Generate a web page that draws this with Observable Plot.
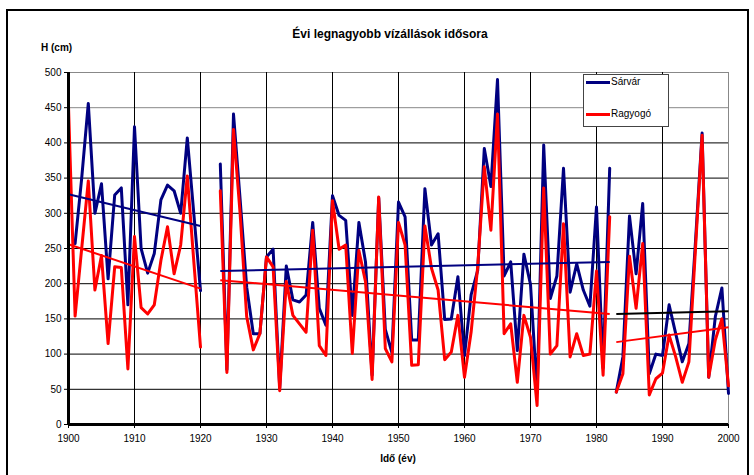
<!DOCTYPE html>
<html>
<head>
<meta charset="utf-8">
<script src="https://cdn.jsdelivr.net/npm/d3@7"></script>
<script src="https://cdn.jsdelivr.net/npm/@observablehq/plot@0.6"></script>
<style>
  html, body { margin: 0; padding: 0; background: #fff; }
  #wrap { position: relative; width: 754px; height: 475px; font-family: "Liberation Sans", Arial, sans-serif; overflow: hidden; }
  #frame { position: absolute; left: 6px; top: 9px; width: 743px; height: 480px; border: 2px solid #000; box-sizing: border-box; pointer-events: none; }
  .lbl { position: absolute; font-weight: bold; color: #000; white-space: nowrap; }
  #title { left: 0; width: 780px; top: 27px; text-align: center; font-size: 12px; }
  #ylab { left: 41px; top: 42px; font-size: 10px; }
  #xlab { left: 0; width: 796px; top: 453px; text-align: center; font-size: 10px; }
  #legend { position: absolute; left: 583px; top: 74px; width: 86px; height: 53px; background: #fff; border: 1px solid #444; box-sizing: border-box; font-size: 10px; }
  .li { position: absolute; left: 2px; height: 12px; line-height: 12px; }
  .li span.sw { display: inline-block; width: 24px; height: 3px; vertical-align: middle; margin-right: 1px; }
</style>
</head>
<body>
<div id="wrap">
  <div id="chart"></div>
  <div id="frame"></div>
  <div class="lbl" id="title">Évi legnagyobb vízállások idősora</div>
  <div class="lbl" id="ylab">H (cm)</div>
  <div class="lbl" id="xlab">Idő (év)</div>
  <div id="legend"></div>
</div>
<script>
// ---- data ----
const seriesNames = ["Sárvár", "Ragyogó"];
const seriesColors = ["#000080", "#ff0000"];

const years1 = d3.range(1900, 1921);
const sarvar1 = [null, 257, 350, 456, 300, 342, 207, 326, 336, 170, 423, 250, 215, 243, 319, 340, 332, 300, 407, 298, 190];
const ragyogo1 = [452, 154, 250, 346, 191, 240, 115, 224, 223, 79, 267, 166, 157, 170, 233, 281, 214, 255, 353, 230, 110];

const years2 = d3.range(1923, 1983);
const sarvar2 = [370, 78, 441, 320, 195, 129, 129, 238, 249, 52, 225, 177, 174, 184, 287, 165, 141, 325, 297, 290,
                 155, 287, 231, 70, 322, 135, 102, 316, 295, 120, 120, 335, 255, 271, 149, 150, 210, 98, 184, 219,
                 392, 338, 490, 211, 231, 105, 242, 199, 45, 397, 179, 211, 364, 188, 228, 191, 168, 309, 80, 364];
const ragyogo2 = [332, 74, 419, 300, 153, 106, 129, 238, 224, 48, 203, 155, 143, 131, 276, 112, 98, 318, 249, 255,
                  101, 247, 203, 64, 323, 108, 89, 287, 255, 84, 85, 282, 222, 191, 92, 103, 155, 67, 131, 224,
                  366, 276, 441, 129, 143, 60, 155, 124, 27, 336, 100, 112, 285, 96, 129, 98, 100, 218, 70, 295];

const years3 = d3.range(1983, 2001);
const sarvar3 = [46, 96, 296, 214, 314, 72, 100, 98, 170, 129, 89, 115, 260, 414, 67, 153, 194, 44];
const ragyogo3 = [46, 72, 239, 165, 257, 42, 65, 73, 127, 96, 60, 89, 250, 411, 67, 120, 150, 55];

// trend lines (start year, end year, start value, end value) per segment
const trendSeries = ["Sárvár", "Ragyogó", "Sárvár", "Ragyogó", "Sárvár", "Ragyogó"];
const trendX1 = [1900, 1900, 1923, 1923, 1983, 1983];
const trendX2 = [1920, 1920, 1982, 1982, 2000, 2000];
const trendY1 = [327, 256, 218, 205, 157, 117];
const trendY2 = [282, 193, 231, 157, 161, 138];
const trendColors = ["#000080", "#ff0000", "#000080", "#ff0000", "#000000", "#ff0000"];

const yTicks = d3.range(0, 501, 50);
const xTicks = d3.range(1900, 2001, 10);

// ---- build rows ----
const rows = [];
function add(years, vals, name, seg) {
  years.forEach((y, i) => { if (vals[i] != null) rows.push({year: y, value: vals[i], series: name, seg: seg + "-" + name}); });
}
add(years1, sarvar1, "Sárvár", 1); add(years1, ragyogo1, "Ragyogó", 1);
add(years2, sarvar2, "Sárvár", 2); add(years2, ragyogo2, "Ragyogó", 2);
add(years3, sarvar3, "Sárvár", 3); add(years3, ragyogo3, "Ragyogó", 3);

const trends = trendSeries.map((s, i) => ({series: s, x1: trendX1[i], x2: trendX2[i], y1: trendY1[i], y2: trendY2[i], color: trendColors[i]}));

const plot = Plot.plot({
  width: 754,
  height: 475,
  marginLeft: 68,
  marginRight: 26,
  marginTop: 72,
  marginBottom: 51,
  style: {fontFamily: "Liberation Sans, Arial, sans-serif", fontSize: "10px", background: "transparent"},
  x: {domain: [1900, 2000]},
  y: {domain: [0, 500]},
  color: {domain: seriesNames, range: seriesColors},
  marks: [
    Plot.ruleY(yTicks.filter(d => d > 0), {stroke: d => d >= 450 ? "#888" : "#000", strokeWidth: 1}),
    Plot.ruleX(xTicks.filter(d => d > 1900), {stroke: d => d === 2000 ? "#888" : "#000", strokeWidth: 1}),
    Plot.line(rows.filter(d => d.series === "Sárvár"), {x: "year", y: "value", z: "seg", stroke: "series", strokeWidth: 3, curve: "linear"}),
    Plot.line(rows.filter(d => d.series === "Ragyogó"), {x: "year", y: "value", z: "seg", stroke: "series", strokeWidth: 3, curve: "linear"}),
    Plot.link(trends, {x1: "x1", y1: "y1", x2: "x2", y2: "y2", stroke: "color", strokeWidth: 2}),
    Plot.axisY({ticks: yTicks, tickSize: 4, tickPadding: 3, tickFormat: d => d, label: null, fontSize: 10}),
    Plot.axisX({ticks: xTicks, tickSize: 4, tickPadding: 6, tickFormat: d => String(d), label: null, fontSize: 10}),
    Plot.ruleY([0], {stroke: "#000", strokeWidth: 3}),
    Plot.ruleX([1900], {stroke: "#000", strokeWidth: 3})
  ]
});
document.getElementById("chart").appendChild(plot);

// legend built from the series arrays
const leg = document.getElementById("legend");
seriesNames.forEach((n, i) => {
  const el = document.createElement("div");
  el.className = "li";
  el.style.top = (i === 0 ? 1 : 33) + "px";
  el.innerHTML = `<span class="sw" style="background:${seriesColors[i]}"></span>${n}`;
  leg.appendChild(el);
});
</script>
</body>
</html>
